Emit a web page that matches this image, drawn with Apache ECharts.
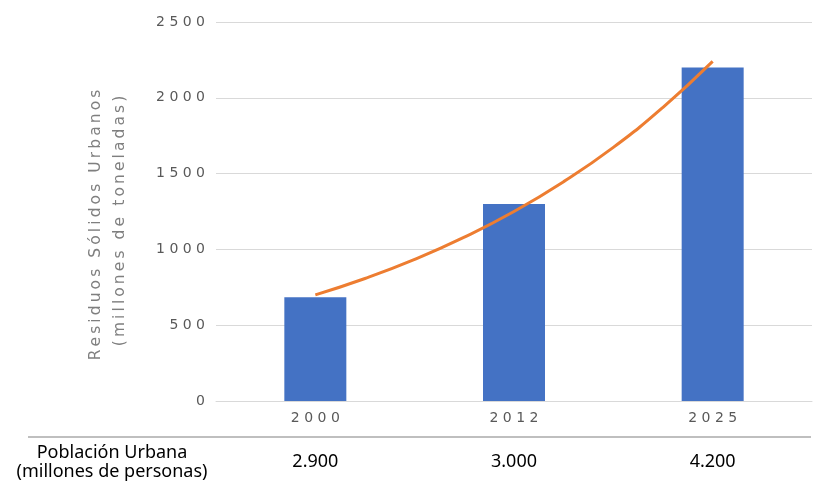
<!DOCTYPE html>
<html><head><meta charset="utf-8">
<script src="https://cdn.jsdelivr.net/npm/echarts@6/dist/echarts.min.js"></script>
<style>html,body{margin:0;padding:0;background:#fff}#c{width:816px;height:484px}</style>
</head><body><div id="c"></div>
<script>
const years = ['2000', '2012', '2025'];
const residuos = [685, 1300, 2200];
const poblacion = ['2.900', '3.000', '4.200'];
// exponential trend line at category positions 1..3
const trendX = [1, 1.25, 1.5, 1.75, 2, 2.25, 2.5, 2.75, 3];
const trendY = [700, 808, 934, 1081, 1250, 1447, 1673, 1937, 2240];
const yTitle1 = 'Residuos Sólidos Urbanos';
const yTitle2 = '(millones de toneladas)';
const rowTitle = 'Población Urbana\n(millones de personas)';

const spaced = s => String(s).split('').join('\u2009');
const digits = s => String(s).split('').join(' ');
const chart = echarts.init(document.getElementById('c'));
chart.setOption({
  animation: false,
  grid: {left: 216, right: 4, top: 22, bottom: 83},
  xAxis: [
    {type: 'category', data: years,
     axisLine: {lineStyle: {color: '#d9d9d9'}}, axisTick: {show: false},
     axisLabel: {margin: 10, color: '#595959', fontSize: 14, fontFamily: 'DejaVu Sans', formatter: v => digits(v)}},
    {type: 'category', data: poblacion, position: 'bottom', offset: 52,
     axisLine: {show: false}, axisTick: {show: false},
     axisLabel: {margin: 0, color: '#000', fontSize: 18, fontFamily: 'Noto Sans'}},
    {type: 'value', min: 0.5, max: 3.5, show: false}
  ],
  yAxis: {type: 'value', min: 0, max: 2500, interval: 500,
    axisLine: {show: false}, axisTick: {show: false},
    splitLine: {lineStyle: {color: '#d9d9d9'}},
    axisLabel: {margin: 11, color: '#595959', fontSize: 14, fontFamily: 'DejaVu Sans', formatter: v => digits(v)}},
  series: [
    {type: 'bar', data: residuos, barWidth: 62, itemStyle: {color: '#4472C4'}},
    {type: 'line', xAxisIndex: 2, data: trendX.map((x, i) => [x, trendY[i]]),
     smooth: true, showSymbol: false, lineStyle: {color: '#ED7D31', width: 3}}
  ],
  graphic: [
    {type: 'text', x: 96, y: 225, rotation: Math.PI / 2,
     style: {text: spaced(yTitle1), fill: '#7f7f7f', font: '15.5px "DejaVu Sans"', align: 'center', verticalAlign: 'middle'}},
    {type: 'text', x: 120, y: 221, rotation: Math.PI / 2,
     style: {text: spaced(yTitle2), fill: '#7f7f7f', font: '15.5px "DejaVu Sans"', align: 'center', verticalAlign: 'middle'}},
    {type: 'line', shape: {x1: 28, y1: 437, x2: 811, y2: 437}, style: {stroke: '#bfbfbf', lineWidth: 2}},
    {type: 'text', x: 112, y: 462,
     style: {text: rowTitle, fill: '#000', font: '18px "Noto Sans"', align: 'center', verticalAlign: 'middle', lineHeight: 19}}
  ]
});
</script></body></html>
